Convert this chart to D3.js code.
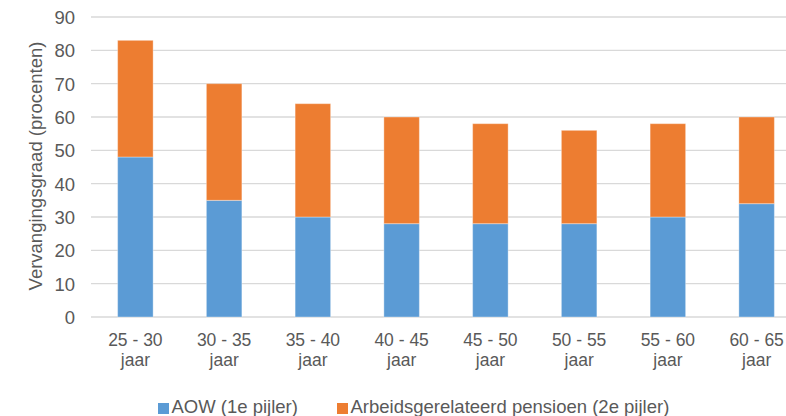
<!DOCTYPE html>
<html><head><meta charset="utf-8">
<script src="https://cdn.jsdelivr.net/npm/d3@7/dist/d3.min.js"></script>
<style>
html,body{margin:0;padding:0;background:#fff;}
svg{display:block;font-family:"Liberation Sans",Arial,sans-serif;}
</style></head>
<body><svg id="c" width="786" height="416"></svg>
<script>
const categories = ["25 - 30|jaar","30 - 35|jaar","35 - 40|jaar","40 - 45|jaar","45 - 50|jaar","50 - 55|jaar","55 - 60|jaar","60 - 65|jaar"];
const aow = [48,35,30,28,28,28,30,34];
const pensioen = [35,35,34,32,30,28,28,26];
const seriesNames = ["AOW (1e pijler)","Arbeidsgerelateerd pensioen (2e pijler)"];
const seriesColors = ["#5b9bd5","#ed7d31"];
const yTicks = [0,10,20,30,40,50,60,70,80,90];
const yTitle = "Vervangingsgraad (procenten)";

const FS = 18.5;
const svg = d3.select("#c");
const x = d3.scaleBand().domain(categories).range([91, 801]).paddingInner(0.6).paddingOuter(0.3);
const y = d3.scaleLinear().domain([0,90]).range([317,17]);
const textCol = "#595959";

// gridlines
svg.append("g").selectAll("line").data(yTicks).join("line")
  .attr("x1",91).attr("x2",801)
  .attr("y1",d=>y(d)).attr("y2",d=>y(d))
  .attr("stroke","#d9d9d9").attr("stroke-width",1.3);

// y labels
const yAxis = d3.axisLeft(y).tickValues(yTicks).tickSize(0).tickPadding(0);
const ga = svg.append("g").attr("transform","translate(75,0)").call(yAxis);
ga.select(".domain").remove();
ga.selectAll("text").attr("fill",textCol).attr("font-size",FS).attr("font-family","Liberation Sans, Arial, sans-serif").attr("dy","0.35em");

// stacked data
const rows = categories.map((c,i)=>({cat:c, a:aow[i], p:pensioen[i]}));
const stack = d3.stack().keys(["a","p"])(rows);
svg.append("g").selectAll("g").data(stack).join("g")
  .attr("fill",(d,i)=>seriesColors[i])
  .selectAll("rect").data(d=>d).join("rect")
  .attr("x",d=>x(d.data.cat)).attr("width",x.bandwidth())
  .attr("y",d=>y(d[1])).attr("height",d=>y(d[0])-y(d[1]))
  .attr("stroke","rgba(255,255,255,0.35)").attr("stroke-width",1);

// x labels
const xl = svg.append("g").selectAll("text").data(categories).join("text")
  .attr("text-anchor","middle")
  .attr("fill",textCol).attr("font-size",17.5);
xl.each(function(d){
  const parts = d.split("|");
  const t = d3.select(this);
  const cx = x(d)+x.bandwidth()/2;
  t.append("tspan").attr("x",cx).attr("y",345.5).text(parts[0]);
  t.append("tspan").attr("x",cx).attr("y",366).text(parts[1]);
});

// y title
svg.append("text").attr("transform","translate(42,166) rotate(-90)")
  .attr("text-anchor","middle").attr("fill",textCol).attr("font-size",FS).text(yTitle);

// legend
const legX = [158, 337];
const lg = svg.append("g").selectAll("g").data(seriesNames).join("g")
  .attr("transform",(d,i)=>`translate(${legX[i]},0)`);
lg.append("rect").attr("x",0).attr("y",403).attr("width",11).attr("height",11).attr("fill",(d,i)=>seriesColors[i]);
lg.append("text").attr("x",13.5).attr("y",413).attr("fill",textCol).attr("font-size",FS).text(d=>d);
</script></body></html>
